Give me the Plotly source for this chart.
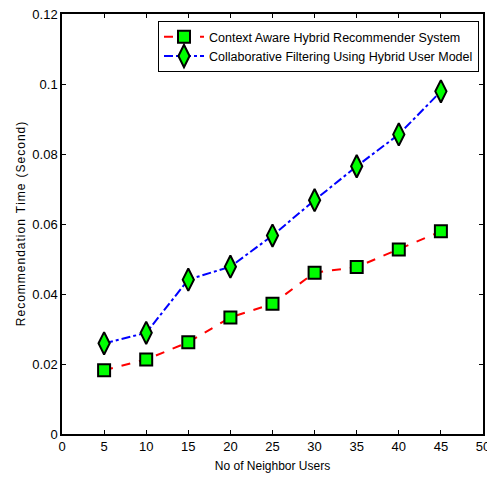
import plotly.graph_objects as go

users = [5, 10, 15, 20, 25, 30, 35, 40, 45]
context_aware = [0.0182, 0.0213, 0.0262, 0.0333, 0.0372, 0.0461, 0.0477, 0.0527, 0.0579]
collab_filter = [0.0259, 0.0289, 0.0441, 0.0478, 0.0567, 0.0668, 0.0765, 0.0856, 0.0979]
x_ticks = [0, 5, 10, 15, 20, 25, 30, 35, 40, 45, 50]
y_ticks = [0, 0.02, 0.04, 0.06, 0.08, 0.1, 0.12]
y_tick_labels = ["0", "0.02", "0.04", "0.06", "0.08", "0.1", "0.12"]

FONT = "Liberation Sans, Arial"

fig = go.Figure()
fig.add_trace(go.Scatter(
    x=users, y=context_aware, mode="lines+markers",
    name="Context Aware Hybrid Recommender System",
    line=dict(color="#ff0000", width=2, dash="dash"),
    marker=dict(symbol="square", size=12, color="#00ff00",
                line=dict(color="black", width=2)),
))
fig.add_trace(go.Scatter(
    x=users, y=collab_filter, mode="lines+markers",
    name="Collaborative Filtering Using Hybrid User Model",
    line=dict(color="#0000ff", width=2, dash="dashdot"),
    marker=dict(symbol="diamond-tall", size=16, color="#00ff00",
                line=dict(color="black", width=2)),
))

axis_common = dict(
    showline=True, linecolor="black", linewidth=1.5, mirror="ticks",
    ticks="inside", ticklen=4, tickcolor="black", showgrid=False,
    zeroline=False, automargin=False, ticklabeloverflow="allow",
    tickfont=dict(family=FONT, size=13, color="black"),
)

def spaced(text):
    words = text.split(" ")
    return "\u2002".join("\u200a".join(list(w)) for w in words)

fig.update_xaxes(range=[0, 50], tickvals=x_ticks, **axis_common,
                 title=dict(text="No of Neighbor Users", standoff=8,
                            font=dict(family=FONT, size=12, color="black")))
fig.update_yaxes(range=[0, 0.12], tickvals=y_ticks, ticktext=y_tick_labels, **axis_common,
                 title=dict(text=spaced("Recommendation Time (Second)"), standoff=4,
                            font=dict(family=FONT, size=12, color="black")))

fig.update_layout(
    width=487, height=470,
    margin=dict(l=54, r=12, t=6, b=44),
    plot_bgcolor="white", paper_bgcolor="white",
    showlegend=True,
    legend=dict(x=0.228, y=0.983, xanchor="left", yanchor="top",
                bgcolor="white", bordercolor="black", borderwidth=1,
                font=dict(family=FONT, size=12.5, color="black"),
                tracegroupgap=0, itemwidth=40),
)

fig.write_html("out.html")
